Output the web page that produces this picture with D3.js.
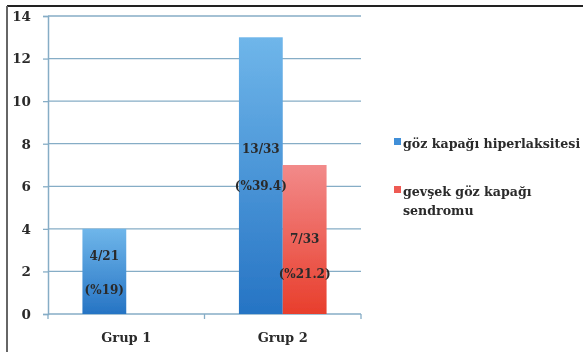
<!DOCTYPE html>
<html>
<head>
<meta charset="utf-8">
<script src="https://cdn.jsdelivr.net/npm/d3@7"></script>
<style>
  html, body { margin: 0; padding: 0; background: #fff; }
  svg { display: block; }
  text { font-family: "DejaVu Serif", "Liberation Serif", serif; font-weight: bold; fill: #2a2a2a; }
</style>
</head>
<body>
<svg id="chart" width="583" height="352"></svg>
<script>
// Groups and series
const groups = ["Grup 1", "Grup 2"];
const seriesNames = ["göz kapağı hiperlaksitesi", "gevşek göz kapağı sendromu"];
const seriesLegendLines = [["göz kapağı hiperlaksitesi"], ["gevşek göz kapağı", "sendromu"]];
const hyperlaxityValues = [4, 13];
const floppyValues = [null, 7];
const hyperlaxityRatio = ["4/21", "13/33"];
const hyperlaxityPct = ["(%19)", "(%39.4)"];
const floppyRatio = [null, "7/33"];
const floppyPct = [null, "(%21.2)"];
const yTicks = [0, 2, 4, 6, 8, 10, 12, 14];

const svg = d3.select("#chart");
const margin = { left: 48, right: 222, top: 16, bottom: 38 };
const W = 583, H = 352;

const x0 = d3.scaleBand().domain(groups).range([margin.left, W - margin.right]).paddingInner(0.44).paddingOuter(0.22);
const x1 = d3.scaleBand().domain([0, 1]).range([0, x0.bandwidth()]);
const y = d3.scaleLinear().domain([0, 14]).range([H - margin.bottom, margin.top]);

const defs = svg.append("defs");
const gBlue = defs.append("linearGradient").attr("id", "gBlue").attr("x1", 0).attr("y1", 0).attr("x2", 0).attr("y2", 1);
gBlue.append("stop").attr("offset", "0%").attr("stop-color", "#6fb6ea");
gBlue.append("stop").attr("offset", "100%").attr("stop-color", "#2674c4");
const gRed = defs.append("linearGradient").attr("id", "gRed").attr("x1", 0).attr("y1", 0).attr("x2", 0).attr("y2", 1);
gRed.append("stop").attr("offset", "0%").attr("stop-color", "#f28a8a");
gRed.append("stop").attr("offset", "100%").attr("stop-color", "#e83e2c");
const soft = defs.append("filter").attr("id", "soft");
soft.append("feGaussianBlur").attr("stdDeviation", 0.35);

const root = svg.append("g").attr("filter", "url(#soft)");

// frame
root.append("line").attr("x1", 7).attr("x2", W).attr("y1", 6).attr("y2", 6).attr("stroke", "#222").attr("stroke-width", 2);
root.append("line").attr("x1", 7).attr("x2", 7).attr("y1", 6).attr("y2", H).attr("stroke", "#666").attr("stroke-width", 2);

// gridlines
const plotRight = W - margin.right;
root.append("g").selectAll("line").data(yTicks.slice(1)).join("line")
  .attr("x1", margin.left).attr("x2", plotRight)
  .attr("y1", d => y(d)).attr("y2", d => y(d))
  .attr("stroke", "#86adc6").attr("stroke-width", 1.3);

// y axis
const yAxis = root.append("g").attr("transform", `translate(${margin.left},0)`)
  .call(d3.axisLeft(y).tickValues(yTicks).tickSize(5).tickPadding(12));
yAxis.select(".domain").attr("stroke", "#86adc6").attr("stroke-width", 1.5);
yAxis.selectAll(".tick line").attr("stroke", "#86adc6").attr("stroke-width", 1.3);
yAxis.selectAll(".tick text").style("font-size", "13.5px").attr("fill", "#2a2a2a");

// x axis
const xAxisG = root.append("g").attr("transform", `translate(0,${y(0)})`);
xAxisG.append("line").attr("x1", margin.left).attr("x2", plotRight).attr("stroke", "#86adc6").attr("stroke-width", 1.5);
const boundaries = [margin.left, (x0("Grup 1") + x0.bandwidth() + x0("Grup 2")) / 2, plotRight];
xAxisG.selectAll("line.tk").data(boundaries).join("line").attr("class", "tk")
  .attr("x1", d => d).attr("x2", d => d).attr("y1", 0).attr("y2", 5)
  .attr("stroke", "#86adc6").attr("stroke-width", 1.3);
xAxisG.selectAll("text").data(groups).join("text")
  .attr("x", d => x0(d) + x0.bandwidth() / 2).attr("y", 28)
  .attr("text-anchor", "middle").style("font-size", "13px").text(d => d);

// bars
const bars = [];
groups.forEach((g, i) => {
  if (hyperlaxityValues[i] != null) bars.push({ g, s: 0, v: hyperlaxityValues[i], r: hyperlaxityRatio[i], p: hyperlaxityPct[i] });
  if (floppyValues[i] != null) bars.push({ g, s: 1, v: floppyValues[i], r: floppyRatio[i], p: floppyPct[i] });
});
root.append("g").selectAll("rect").data(bars).join("rect")
  .attr("x", d => x0(d.g) + x1(d.s)).attr("width", x1.bandwidth())
  .attr("y", d => y(d.v)).attr("height", d => y(0) - y(d.v))
  .attr("fill", d => d.s === 0 ? "url(#gBlue)" : "url(#gRed)");

// bar labels: ratio and percentage, placed by fraction of bar value
const ratioFrac = d => d.v === 4 ? 0.69 : d.v === 13 ? 0.6 : 0.51;
const pctFrac = d => d.v === 4 ? 0.29 : d.v === 13 ? 0.465 : 0.275;
const lbl = root.append("g");
lbl.selectAll("text.r").data(bars).join("text").attr("class", "r")
  .attr("x", d => x0(d.g) + x1(d.s) + x1.bandwidth() / 2)
  .attr("y", d => y(d.v * ratioFrac(d)) + 5)
  .attr("text-anchor", "middle").style("font-size", "12px").text(d => d.r);
lbl.selectAll("text.p").data(bars).join("text").attr("class", "p")
  .attr("x", d => x0(d.g) + x1(d.s) + x1.bandwidth() / 2)
  .attr("y", d => y(d.v * pctFrac(d)) + 5)
  .attr("text-anchor", "middle").style("font-size", "12px").text(d => d.p);

// legend
const legend = root.append("g");
const legendY = [143, 191];
const colors = ["#3f8fd8", "#ee5a52"];
seriesNames.forEach((name, i) => {
  legend.append("rect").attr("x", 394).attr("y", legendY[i] - 5).attr("width", 7).attr("height", 7).attr("fill", colors[i]);
  seriesLegendLines[i].forEach((line, j) => {
    legend.append("text").attr("x", 403).attr("y", legendY[i] + 5 + j * 19)
      .style("font-size", "12.6px").text(line);
  });
});
</script>
</body>
</html>
